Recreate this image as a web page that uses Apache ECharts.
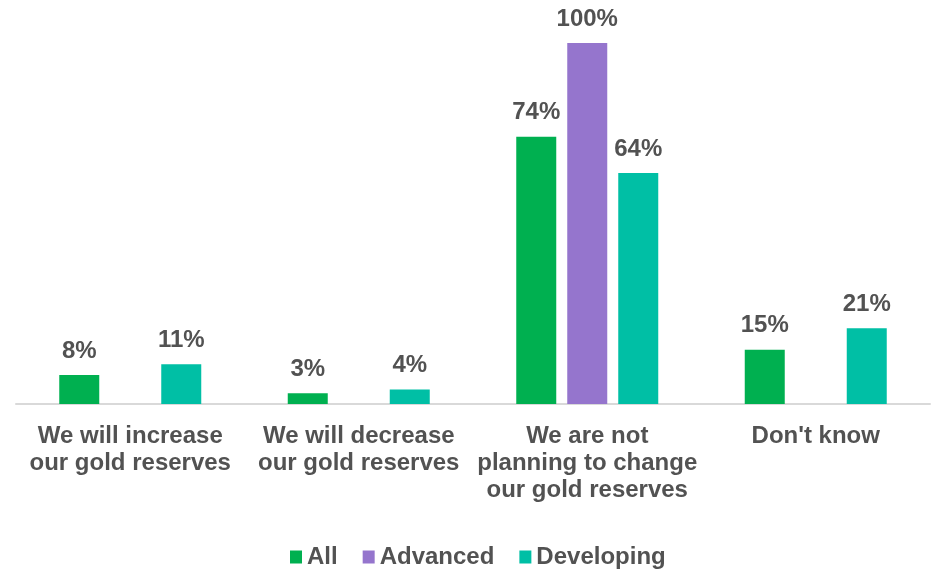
<!DOCTYPE html>
<html>
<head>
<meta charset="utf-8">
<style>
  html, body { margin: 0; padding: 0; background: #ffffff; }
  #chart { width: 934px; height: 569px; }
</style>
<script src="https://cdn.jsdelivr.net/npm/echarts@6/dist/echarts.min.js"></script>
</head>
<body>
<div id="chart"></div>
<script>
// Survey answers on gold reserve plans
const categories = [
  'We will increase\nour gold reserves',
  'We will decrease\nour gold reserves',
  'We are not\nplanning to change\nour gold reserves',
  "Don't know"
];
const allValues = [8, 3, 74, 15];
const advancedValues = ['-', '-', 100, '-'];
const developingValues = [11, 4, 64, 21];

const FONT = '"Liberation Sans", Arial, sans-serif';
const TEXT = '#525252';

const chart = echarts.init(document.getElementById('chart'));

function barSeries(name, data, color) {
  return {
    name: name,
    type: 'bar',
    data: data,
    barWidth: 40,
    barGap: '27.5%',
    itemStyle: { color: color },
    label: {
      show: true,
      position: 'top',
      distance: 12,
      formatter: '{c}%',
      color: TEXT,
      fontFamily: FONT,
      fontWeight: 'bold',
      fontSize: 24
    }
  };
}

chart.setOption({
  animation: false,
  grid: { left: 16, right: 4, top: 43, bottom: 165, containLabel: false },
  legend: {
    top: 540,
    left: 285,
    itemWidth: 12,
    itemHeight: 13,
    itemGap: 25,
    icon: 'rect',
    textStyle: { color: TEXT, fontFamily: FONT, fontWeight: 'bold', fontSize: 24 },
    data: ['All', 'Advanced', 'Developing']
  },
  xAxis: {
    type: 'category',
    data: categories,
    axisLine: { show: true, lineStyle: { color: '#d9d9d9', width: 2 } },
    axisTick: { show: false },
    axisLabel: {
      color: TEXT,
      fontFamily: FONT,
      fontWeight: 'bold',
      fontSize: 24,
      lineHeight: 27,
      margin: 19,
      interval: 0
    }
  },
  yAxis: {
    type: 'value',
    min: 0,
    max: 100,
    show: false
  },
  series: [
    barSeries('All', allValues, '#00b050'),
    barSeries('Advanced', advancedValues, '#9575cd'),
    barSeries('Developing', developingValues, '#00bfa5')
  ]
});
</script>
</body>
</html>
